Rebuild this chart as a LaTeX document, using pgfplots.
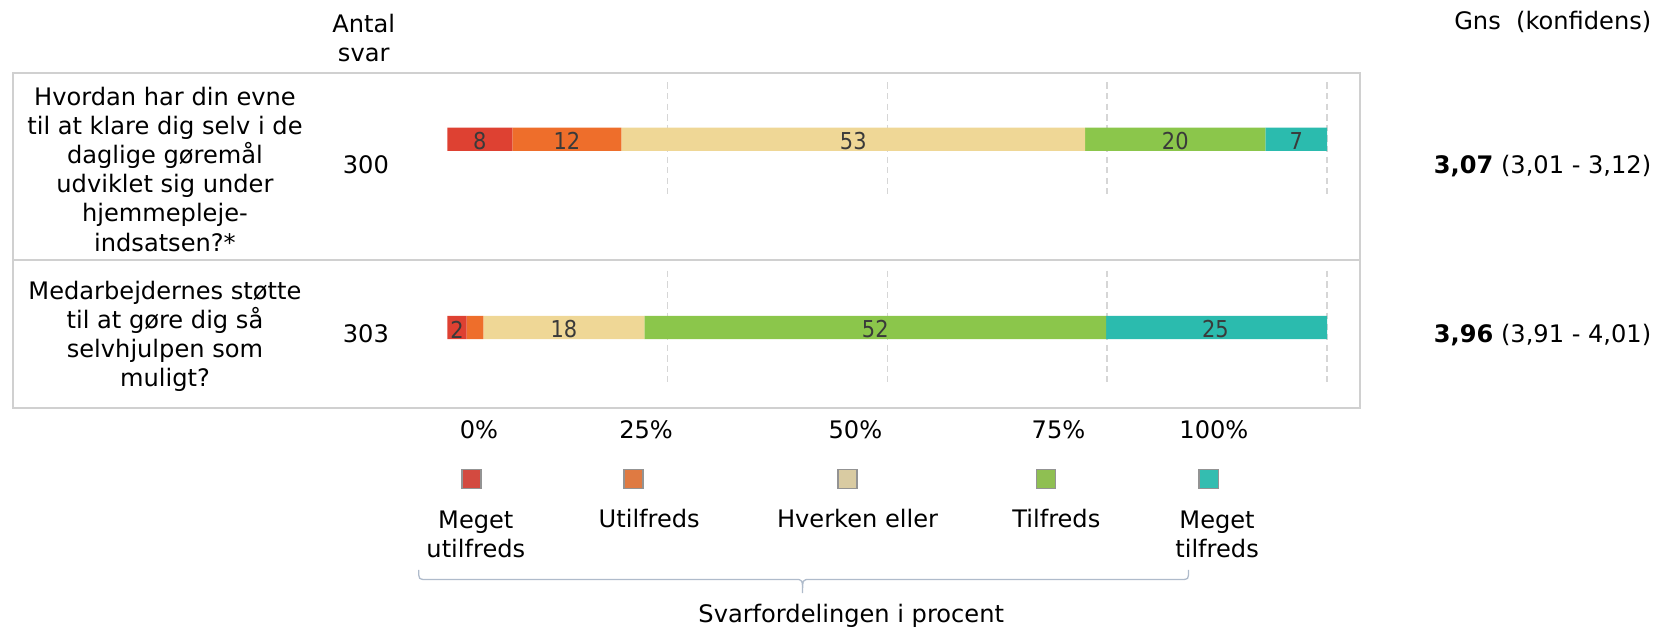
\documentclass[border=0pt]{standalone}
\usepackage{fontspec}
\setmainfont{DejaVu Sans}
\newfontfamily\condfont{DejaVu Sans Condensed}
\usepackage{pgfplots}
\pgfplotsset{compat=1.18}
\definecolor{cRed}{HTML}{DE4132}
\definecolor{cOrange}{HTML}{EE6E2B}
\definecolor{cTan}{HTML}{EFD796}
\definecolor{cGreen}{HTML}{8BC64B}
\definecolor{cTeal}{HTML}{2BBBAE}
\definecolor{lRed}{HTML}{D34A40}
\definecolor{lOrange}{HTML}{DF7A42}
\definecolor{lTan}{HTML}{D9CBA2}
\definecolor{lGreen}{HTML}{8FBF52}
\definecolor{lTeal}{HTML}{34BDB0}
\definecolor{boxgray}{HTML}{D0D0D0}
\definecolor{gridc}{HTML}{D6D6D6}
\definecolor{labelc}{HTML}{3A3A3A}
\definecolor{bracec}{HTML}{AFBBCB}
\pgfplotsset{rowaxis/.style={at={(211.5pt,-193pt)},anchor=south west,scale only axis,
  width=416pt,height=158.5pt,xmin=0,xmax=100,ymin=-386,ymax=-69,hide axis,clip=false}}
\begin{document}
\begin{tikzpicture}[font=\fontsize{11.4}{13.8}\selectfont]
\begin{scope}[x=0.5pt,y=0.5pt]
\useasboundingbox (0,0) rectangle (1568,-601);
% table frame
\draw[boxgray,line width=1.1pt] (12,-69) rectangle (1286,-386);
\draw[boxgray,line width=1.1pt] (12,-246) -- (1286,-246);
% headers
\node[align=center] at (344,-36) {Antal\\svar};
\node[anchor=mid east,inner sep=0pt] at (1562,-22) {Gns\ \ (konfidens)};
% questions
\node[align=center] at (156,-160) {Hvordan har din evne\\til at klare dig selv i de\\daglige gøremål\\udviklet sig under\\hjemmepleje-\\indsatsen?*};
\node[align=center] at (156,-318) {Medarbejdernes støtte\\til at gøre dig så\\selvhjulpen som\\muligt?};
\node[anchor=mid] at (346,-159) {300};
\node[anchor=mid] at (346,-318) {303};
\node[anchor=mid east,inner sep=0pt] at (1562,-159) {\textbf{3,07} (3,01 - 3,12)};
\node[anchor=mid east,inner sep=0pt] at (1562,-318) {\textbf{3,96} (3,91 - 4,01)};
% bottom scale and legend
\node[anchor=mid] at (453,-409) {0\%};
\node[anchor=mid] at (611,-409) {25\%};
\node[anchor=mid] at (809,-409) {50\%};
\node[anchor=mid] at (1001,-409) {75\%};
\node[anchor=mid] at (1148,-409) {100\%};
\foreach \xx/\cc in {446/lRed,599/lOrange,801.5/lTan,989/lGreen,1143/lTeal}{
  \filldraw[fill=\cc,draw=gray!85,line width=0.6pt] (\xx-9,-444) rectangle (\xx+9,-462);
}
\node[align=center] at (450,-505) {Meget\\utilfreds};
\node[anchor=mid] at (614,-493) {Utilfreds};
\node[anchor=mid] at (811,-493) {Hverken eller};
\node[anchor=mid] at (999,-493) {Tilfreds};
\node[align=center] at (1151,-505) {Meget\\tilfreds};
% brace
\draw[bracec,line width=0.6pt] (396,-539) .. controls (396,-548) .. (403,-548) -- (752,-548)
  .. controls (759,-548) .. (759,-561) .. controls (759,-548) .. (766,-548) -- (1117,-548)
  .. controls (1124,-548) .. (1124,-539);
\node[anchor=mid] at (805,-583) {Svarfordelingen i procent};
\end{scope}
% gridlines
\begin{axis}[rowaxis]
\addplot[gridc,line width=0.6pt,dash pattern=on 3pt off 2pt] coordinates {(25,-78) (25,-183)};
\addplot[gridc,line width=0.6pt,dash pattern=on 3pt off 2pt] coordinates {(50,-78) (50,-183)};
\addplot[gridc,line width=0.6pt,dash pattern=on 3pt off 2pt] coordinates {(75,-78) (75,-183)};
\addplot[gridc,line width=0.6pt,dash pattern=on 3pt off 2pt] coordinates {(100,-78) (100,-183)};
\addplot[gridc,line width=0.6pt,dash pattern=on 3pt off 2pt] coordinates {(25,-256) (25,-361)};
\addplot[gridc,line width=0.6pt,dash pattern=on 3pt off 2pt] coordinates {(50,-256) (50,-361)};
\addplot[gridc,line width=0.6pt,dash pattern=on 3pt off 2pt] coordinates {(75,-256) (75,-361)};
\addplot[gridc,line width=0.6pt,dash pattern=on 3pt off 2pt] coordinates {(100,-256) (100,-361)};
\end{axis}
% bars
\begin{axis}[rowaxis,xbar stacked,bar width=11pt]
\addplot[fill=cRed,draw=none] coordinates {(7.4,-131.75) (2.2,-309.7)};
\addplot[fill=cOrange,draw=none] coordinates {(12.4,-131.75) (1.9,-309.7)};
\addplot[fill=cTan,draw=none] coordinates {(52.7,-131.75) (18.3,-309.7)};
\addplot[fill=cGreen,draw=none] coordinates {(20.5,-131.75) (52.5,-309.7)};
\addplot[fill=cTeal,draw=none] coordinates {(7.0,-131.75) (25.1,-309.7)};
\end{axis}
% bar labels
\begin{axis}[rowaxis]
\addplot[draw=none,mark=none,nodes near coords,point meta=explicit symbolic,
  nodes near coords style={anchor=center,inner sep=0pt,text=labelc,font=\condfont\fontsize{11}{13}\selectfont}]
  coordinates {(3.7,-133)[8] (13.6,-133)[12] (46.15,-133)[53] (82.75,-133)[20] (96.5,-133)[7]
               (1.1,-311.5)[2] (13.25,-311.5)[18] (48.65,-311.5)[52] (87.3,-311.5)[25]};
\end{axis}
\end{tikzpicture}
\end{document}
